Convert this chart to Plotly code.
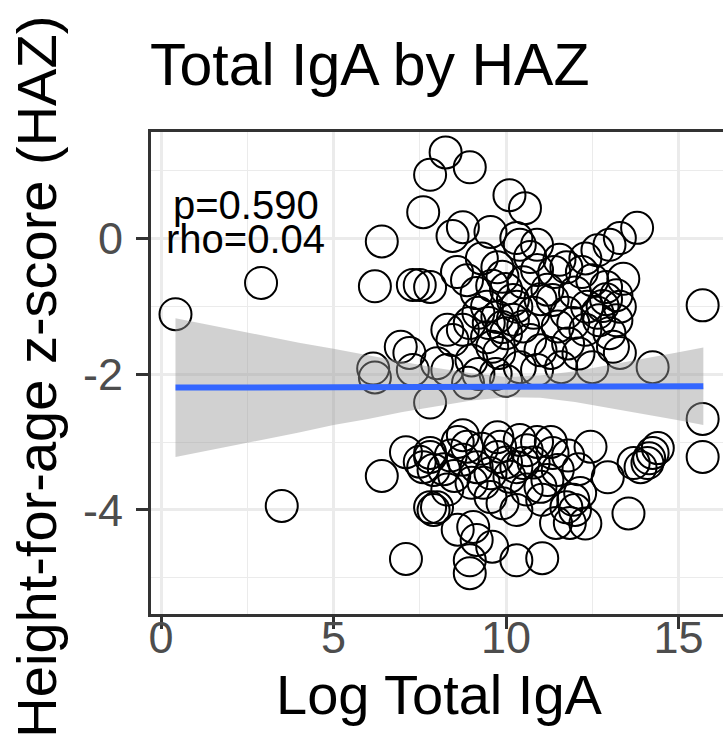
import plotly.graph_objects as go

# ---- data ----
log_iga = [
    0.42, 2.9, 3.5, 6.4, 6.2, 6.15, 6.2, 6.4, 7.1, 7.1, 15.7, 15.7, 15.7, 13.55,
    8.25, 8.95, 7.8, 7.6, 10.1, 10.55, 8.75, 8.45, 9.55, 10.3, 10.4, 13.8, 13.3, 13.0, 12.65,
    7.3, 7.5, 7.8, 8.58, 8.87, 9.75, 9.9, 10.7, 10.9, 11.55, 11.75, 12.5, 12.9, 13.2, 13.3,
    9.45, 9.75, 9.9, 8.75, 8.95, 9.15, 10.2, 10.3, 11.2, 11.35, 11.75, 11.95, 12.35, 12.65,
    12.8, 12.7, 13.2, 8.3, 8.45, 9.45, 9.6, 9.8, 10.7, 11.0, 11.3, 13.1, 13.3, 14.25, 8.0,
    8.3, 12.5, 10.4, 10.9, 6.95, 7.2, 7.3, 7.8,
    9.3, 9.6, 10.0, 10.5, 9.2, 9.5, 10.0, 10.2, 10.5, 10.8, 11.0, 11.5, 12.0, 12.2, 12.3,
    13.0, 12.9, 13.4, 12.3, 10.9, 11.4, 9.0, 9.2, 8.9, 9.7, 10.0, 11.6, 11.8, 12.1,
    8.75, 8.87, 8.75, 9.75, 9.83, 9.75, 10.4, 10.6, 10.5, 11.3, 11.35, 12.45, 12.95,
    14.4, 14.25, 14.15, 14.1, 13.9, 13.7, 7.8, 7.6, 7.5, 7.8, 7.9, 7.8, 7.9,
    9.15, 9.55, 9.35, 10.1, 10.3, 11.2, 11.5, 11.95, 12.15, 11.75, 11.85, 11.45, 11.0, 11.05,
    8.0, 8.6, 9.05, 9.15, 9.6, 8.95, 8.95, 10.3, 11.05, 9.55, 9.9, 10.3,
    8.4, 8.5, 9.0, 8.3, 9.3, 10.0, 10.8, 10.9, 11.8, 12.1, 8.2, 8.6, 10.6, 12.3, 12.0,
]
haz = [
    -1.12, -0.66, -3.94, -0.05, -0.71, -1.92, -2.05, -3.5, -3.15, -4.72, -0.99, -2.66, -3.22, -4.05,
    1.26, 1.04, 0.93, 0.38, 0.63, 0.44, 0.16, 0.03, 0.09, 0.0, -0.1, 0.15, 0.0, -0.1, -0.18,
    -0.69, -0.69, -0.72, -0.5, -0.62, -0.43, -0.57, -0.28, -0.47, -0.32, -0.43, -0.62, -0.72, -0.84, -1.01,
    -1.01, -1.16, -1.31, -1.35, -1.25, -0.81, -0.91, -1.01, -0.76, -0.91, -1.1, -1.25, -1.01, -1.1,
    -1.0, -1.21, -1.21, -1.35, -1.5, -1.46, -1.6, -1.69, -1.5, -1.65, -1.69, -1.6, -1.69, -1.9, -1.84,
    -1.94, -1.9, -1.9, -1.94, -1.6, -1.69, -1.94, -2.42,
    -0.3, -0.7, -0.75, -0.65, -1.1, -1.25, -1.4, -1.2, -1.3, -1.1, -0.9, -1.3, -0.8, -0.5, -1.35,
    -1.4, -0.9, -0.6, -0.3, -0.1, -0.5, -1.8, -2.0, -2.13, -2.0, -2.1, -1.9, -1.55, -1.7,
    -2.9, -3.07, -3.26, -2.93, -3.07, -3.22, -2.97, -3.12, -3.31, -3.0, -3.16, -3.07, -3.52,
    -3.09, -3.16, -3.24, -3.31, -3.37, -3.31, -3.16, -3.37, -3.29, -3.22, -3.41, -3.96, -4.0,
    -3.37, -3.46, -3.6, -3.51, -3.37, -3.56, -3.41, -3.85, -3.75, -3.96, -4.19, -4.19, -3.66, -3.85,
    -3.96, -4.29, -4.25, -4.44, -4.54, -4.74, -4.93, -4.74, -4.71, -3.81, -3.9, -4.0,
    -3.2, -3.5, -3.6, -3.7, -3.1, -3.3, -3.3, -3.0, -3.2, -3.4, -3.4, -3.0, -3.7, -4.2, -4.0,
]

# linear fit and its confidence band
fit_x = [0.42, 15.72]
fit_y = [-2.20, -2.18]
band_x = [0.42, 1, 2, 3, 4, 5, 6, 7, 8, 9, 10, 11, 12, 13, 14, 15, 15.72]
band_hi = [-1.18, -1.24, -1.34, -1.44, -1.54, -1.63, -1.73, -1.82, -1.91, -1.99, -2.04,
           -2.02, -1.96, -1.87, -1.78, -1.68, -1.61]
band_lo = [-3.22, -3.16, -3.06, -2.96, -2.86, -2.75, -2.66, -2.56, -2.47, -2.39, -2.34,
           -2.35, -2.41, -2.50, -2.59, -2.68, -2.75]

x_ticks = [0, 5, 10, 15]
x_ticktext = ["0", "5", "10", "15"]
y_ticks = [-4, -2, 0]
y_ticktext = ["-4", "-2", "0"]

title_text = "Total IgA by HAZ"
x_title = "Log Total IgA"
y_title = "Height-for-age z-score (HAZ)"
stat_lines = ["p=0.590", "rho=0.04"]

FONT = "Liberation Sans, Arial, Helvetica, sans-serif"

fig = go.Figure()
fig.add_trace(go.Scatter(
    x=log_iga, y=haz, mode="markers",
    marker=dict(symbol="circle-open", size=32, color="black", line=dict(width=2, color="black")),
    showlegend=False, hoverinfo="skip"))
fig.add_trace(go.Scatter(
    x=band_x + band_x[::-1], y=band_hi + band_lo[::-1],
    fill="toself", fillcolor="rgba(153,153,153,0.45)", line=dict(width=0),
    mode="lines", showlegend=False, hoverinfo="skip"))
fig.add_trace(go.Scatter(
    x=fit_x, y=fit_y, mode="lines", line=dict(color="#3366FF", width=6),
    showlegend=False, hoverinfo="skip"))

axis_common = dict(
    showgrid=True, gridcolor="#EBEBEB", gridwidth=2.5, zeroline=False,
    showline=True, linecolor="#333333", linewidth=3,
    ticks="outside", ticklen=12, tickwidth=3, tickcolor="#333333",
    tickfont=dict(family=FONT, size=45, color="#4D4D4D"),
)
fig.update_xaxes(range=[-0.29, 16.29], tickmode="array", tickvals=x_ticks, ticktext=x_ticktext,
                 mirror=True, ticklabelstandoff=-30,
                 minor=dict(tickvals=[2.5, 7.5, 12.5], showgrid=True, gridcolor="#EBEBEB",
                            gridwidth=1.3, ticks=""),
                 **axis_common)
fig.update_yaxes(range=[-5.53, 1.56], tickmode="array", tickvals=y_ticks, ticktext=y_ticktext,
                 mirror=False, ticklabelstandoff=4,
                 minor=dict(tickvals=[-5, -3, -1, 1], showgrid=True, gridcolor="#EBEBEB",
                            gridwidth=1.3, ticks=""),
                 **axis_common)

annotations = [
    dict(text=title_text, xref="paper", yref="paper", x=0, xshift=-3, y=1.139,
         xanchor="left", yanchor="middle", showarrow=False,
         font=dict(family=FONT, size=59, color="black")),
    dict(text=x_title, xref="paper", yref="paper", x=0.505, y=-0.167,
         xanchor="center", yanchor="middle", showarrow=False,
         font=dict(family=FONT, size=56, color="black")),
    dict(text=y_title, xref="paper", yref="paper", x=-0.2017, y=0.4917, textangle=-90,
         xanchor="center", yanchor="middle", showarrow=False,
         font=dict(family=FONT, size=56, color="black")),
    dict(text=stat_lines[0], xref="x", yref="y", x=2.45, y=0.49,
         xanchor="center", yanchor="middle", showarrow=False,
         font=dict(family=FONT, size=40, color="black")),
    dict(text=stat_lines[1], xref="x", yref="y", x=2.45, y=-0.01,
         xanchor="center", yanchor="middle", showarrow=False,
         font=dict(family=FONT, size=40, color="black")),
]

fig.update_layout(
    width=723, height=749,
    margin=dict(l=151, r=0, t=132, b=135, autoexpand=False),
    plot_bgcolor="white", paper_bgcolor="white",
    annotations=annotations, showlegend=False,
)

fig.write_html("out.html")
